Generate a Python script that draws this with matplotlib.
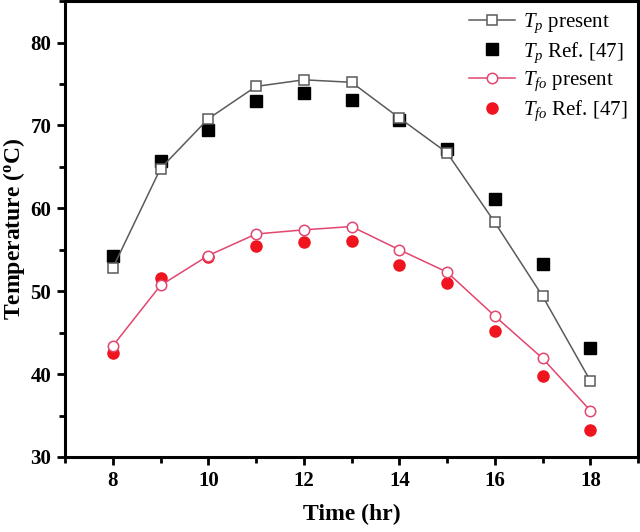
import matplotlib
matplotlib.use("Agg")
import matplotlib.pyplot as plt
from matplotlib.ticker import MultipleLocator

plt.rcParams['font.family'] = 'Liberation Serif'
plt.rcParams['mathtext.fontset'] = 'custom'
plt.rcParams['mathtext.rm'] = 'Liberation Serif'
plt.rcParams['mathtext.it'] = 'Liberation Serif:italic'
plt.rcParams['mathtext.bf'] = 'Liberation Serif:bold'

# data
hours = [8, 9, 10, 11, 12, 13, 14, 15, 16, 17, 18]
tp_present = [52.8, 64.8, 70.8, 74.7, 75.5, 75.2, 70.9, 66.7, 58.3, 49.4, 39.2]
tp_ref = [54.2, 65.7, 69.4, 73.0, 73.9, 73.1, 70.7, 67.1, 61.1, 53.3, 43.2]
tfo_present = [43.4, 50.7, 54.3, 56.9, 57.4, 57.8, 55.0, 52.3, 47.0, 41.9, 35.6]
tfo_ref = [42.6, 51.6, 54.1, 55.4, 55.9, 56.0, 53.2, 51.0, 45.2, 39.8, 33.3]

fig = plt.figure(figsize=(6.4, 5.32), dpi=100)
ax = fig.add_axes([0.1016, 0.141, 0.8954, 0.857])

ax.plot(hours, tp_present, color='#5a5a5a', lw=1.1, marker='s', ms=6.5,
        mfc='white', mec='#5a5a5a', mew=1.1, label='$T_p$ present', zorder=3)
ax.plot(hours, tp_ref, ls='none', marker='s', ms=8, color='black',
        label='$T_p$ Ref. [47]', zorder=2)
ax.plot(hours, tfo_present, color='#e2466e', lw=1.1, marker='o', ms=7.5,
        mfc='white', mec='#e2466e', mew=1.1, label='$T_{fo}$ present', zorder=3)
ax.plot(hours, tfo_ref, ls='none', marker='o', ms=8, color='#f0141e',
        label='$T_{fo}$ Ref. [47]', zorder=2)

ax.set_xlim(7, 19)
ax.set_ylim(30, 85)
ax.xaxis.set_major_locator(MultipleLocator(2))
ax.xaxis.set_minor_locator(MultipleLocator(1))
ax.yaxis.set_major_locator(MultipleLocator(10))
ax.yaxis.set_minor_locator(MultipleLocator(5))
ax.tick_params(which='both', direction='out', width=2, labelsize=15)
ax.tick_params(which='major', length=6, pad=4)
ax.tick_params(which='minor', length=4)
for lab in ax.get_xticklabels() + ax.get_yticklabels():
    lab.set_fontweight('bold')
for s in ax.spines.values():
    s.set_linewidth(2.2)

ax.set_xlabel('Time (hr)', fontsize=17, fontweight='bold', labelpad=9)
ax.set_ylabel(r'Temperature ($\mathbf{^{o}}$C)', fontsize=17, fontweight='bold', labelpad=2)

ax.legend(loc='upper right', frameon=False, fontsize=15, handlelength=2.2,
          borderaxespad=0.1, labelspacing=0.25, handletextpad=0.4)

fig.savefig('out.png', dpi=100)
